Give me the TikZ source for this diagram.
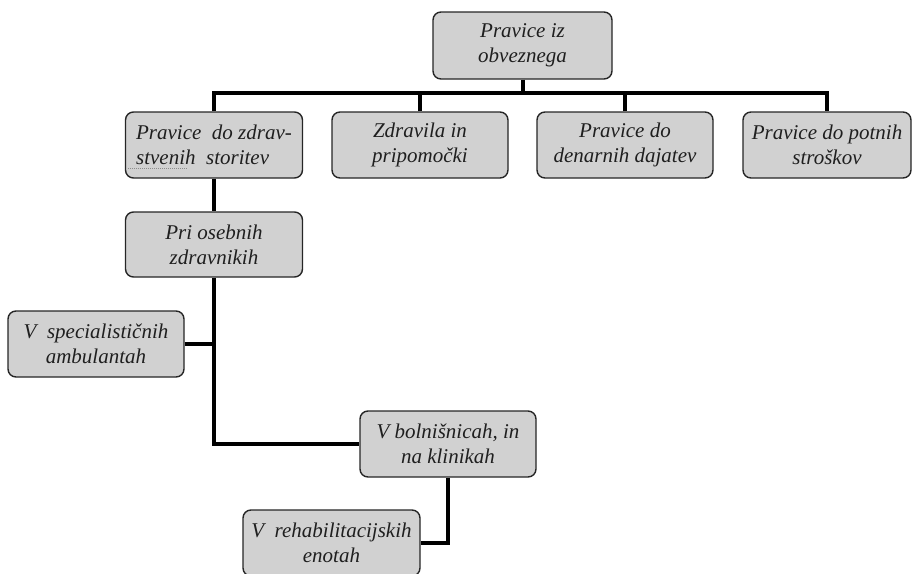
\documentclass[tikz,border=0pt]{standalone}
\usepackage{fontspec}
\setmainfont{Liberation Serif}
\begin{document}
\begin{tikzpicture}[x=1pt,y=-1pt,
  box/.style={draw=black!85, line width=1.4pt, rounded corners=8pt, fill=black!18,
    minimum width=176pt, minimum height=66pt, inner sep=2pt, align=center,
    font=\fontsize{21}{25}\selectfont\itshape, text=black!88},
  conn/.style={line width=4pt, black},
  spell/.style={black!45, line width=1pt, dash pattern=on 1pt off 1pt}]
\useasboundingbox (0,0) rectangle (913,573);
\node[box, minimum width=179pt, minimum height=67pt] (top) at (522.5,45.5) {Pravice iz\\obveznega};
\node[box, minimum width=177pt, align=left] (b1) at (214,145) {Pravice\ \ do zdrav-\\stvenih\ \ storitev};
\node[box] (b2) at (420,145) {Zdravila in\\pripomočki};
\node[box] (b3) at (625,145) {Pravice do\\denarnih dajatev};
\node[box, minimum width=168pt] (b4) at (827,145) {Pravice do potnih\\stroškov};
\node[box, minimum width=177pt, minimum height=65pt] (b5) at (214,244.5) {Pri osebnih\\zdravnikih};
\node[box] (b6) at (96,344) {V\ \ specialističnih\\ambulantah};
\node[box] (b7) at (448,444) {V bolnišnicah, in\\na klinikah};
\node[box, minimum width=177pt] (b8) at (331.5,543) {V\ \ rehabilitacijskih\\enotah};
\coordinate (bar) at (522.5,93);
\draw[spell] ([shift={(3,-10)}]b1.south west) -- ++(60,0);
\draw[conn] (top.south) -- (bar);
\draw[conn] (b1.north) |- (bar) -| (b4.north);
\draw[conn] (b2.north) -- (b2.north |- bar);
\draw[conn] (b3.north) -- (b3.north |- bar);
\draw[conn] (b1.south) -- (b5.north);
\draw[conn] (b5.south) |- (b7.west);
\draw[conn] (b6.east) -- (b6.east -| b5.south);
\draw[conn] (b7.south) |- (b8.east);
\end{tikzpicture}
\end{document}
